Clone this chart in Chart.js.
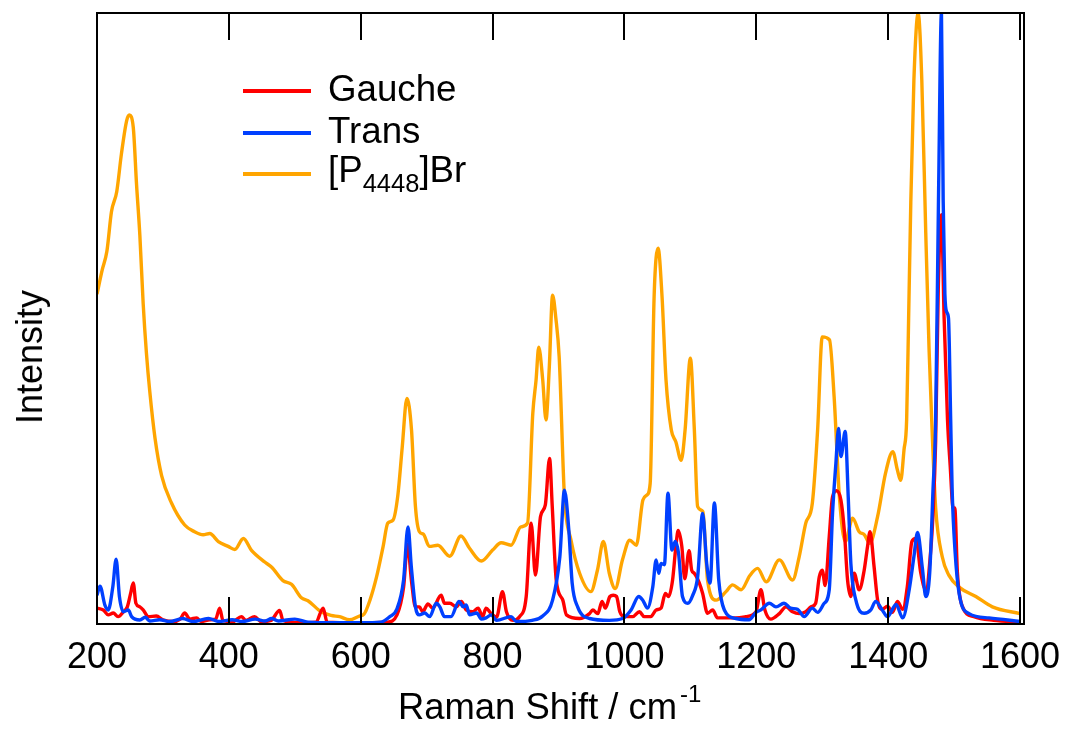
<!DOCTYPE html>
<html>
<head>
<meta charset="utf-8">
<script src="https://cdn.jsdelivr.net/npm/chart.js@4.4.1/dist/chart.umd.min.js"></script>
<style>
  html, body { margin: 0; padding: 0; background: #fff; }
  #wrap { position: relative; width: 1066px; height: 731px; overflow: hidden; font-family: "Liberation Sans", Arial, sans-serif; color: #000; }
  #c { position: absolute; left: 0; top: 0; }
  .lgline { position: absolute; left: 243px; width: 68px; height: 4px; }
  .lgtext { position: absolute; left: 328px; font-size: 36.7px; line-height: 36px; white-space: nowrap; }
  .lgtext sub { font-size: 25.5px; line-height: 0; vertical-align: baseline; position: relative; top: 10px; }
  #xtitle { position: absolute; left: 398px; top: 689px; font-size: 36.4px; line-height: 35px; white-space: nowrap; }
  #xtitle sup { font-size: 24px; line-height: 0; vertical-align: baseline; position: relative; top: -17px; margin-left: 3px; }
  #ytitle { position: absolute; left: 30px; top: 357px; font-size: 36px; line-height: 36px; white-space: nowrap; transform: translate(-50%, -50%) rotate(-90deg); }
</style>
</head>
<body>
<div id="wrap">
  <canvas id="c" width="1066" height="731"></canvas>
  <div id="legend"></div>
  <div id="xtitle">Raman Shift / cm<sup>-1</sup></div>
  <div id="ytitle">Intensity</div>
</div>
<script>
// ---- data (x: Raman shift / cm^-1, y: relative intensity 0..100) ----
const gaucheX = [200,209.6,217,224.7,232,240,246,251,255,259,265,270,278,290,300,315,326,333,341,351,358,371,380,386,391,406,419,426,439,449,464,477,482,502,532,543,549,594,640,655,665,671,677,683,689,694,702,709,722,727,735,745,752.5,760,770,778,785,790,797,806,815,821,831,841,851,858.5,865,872.7,880,886.4,890.5,896.5,906.5,912,932,947,952,959.6,966,971,978,983,988,993,1000,1012.6,1022.7,1030,1040,1048,1055.5,1062,1067,1073,1078,1081.5,1087,1091.5,1098,1102,1106,1113.6,1118.6,1126,1133.8,1141,1169,1184,1199.5,1207,1213,1222,1235,1245,1255,1265,1275,1283,1290,1295.5,1300,1304.5,1310.6,1315.6,1321.7,1328.3,1333.4,1338.4,1343.4,1348.5,1356,1363.6,1368.7,1372.5,1378.5,1384,1391,1399,1406.6,1414,1422,1429,1436,1442,1449.5,1457,1464.6,1468,1472,1476,1480.8,1484.8,1490,1494,1498.5,1501,1505,1512,1530,1560,1600];
const gaucheY = [2.6,2.3,1.5,1.8,1.2,2,2.8,5,6.7,3.4,2.8,2.3,1.2,1.3,0.7,0.4,0.8,1.8,0.8,1.0,0.4,0.7,0.8,2.6,0.6,0.4,1.2,0.6,1.2,0.4,0.6,2.2,0.6,0.2,0.3,2.6,0.3,0.2,0.3,1.5,6,13,7,2.8,2.8,2,3.3,2.6,4.7,3.4,3.4,2.8,3.7,2.3,2,2.6,1.2,2.6,1.8,1.1,5.3,2,0.6,1.2,4.5,16.5,8,17.6,19.5,27.1,19.2,7.2,3.9,1.5,0.9,1.7,2.3,1.7,3.7,2.6,4.5,4.7,4.5,2.0,1.2,1.2,2,1.2,1.2,2.3,2.6,5,4.5,7.2,12.7,15.3,12.7,7.4,12,8.8,8.3,6.7,5,1.75,2.3,1,1,1.2,2,5.6,2.3,0.8,1.7,2.8,2,1.7,2,2.8,3.4,7.7,8.8,6.3,14.3,20.8,21.8,20.3,15.4,7.2,4.5,8.3,5.6,8.8,12.7,15.1,9.5,3.9,2.4,2.9,1.9,3.7,2.4,6.1,13.5,14,8.3,5.6,12.1,18,30,55,67,50.3,33.4,26,19,19,8.4,3,1.2,0.6,0.3];

const transX = [200,204.5,212,217,224,229,234,240,247.5,252.5,265,273,280,295,310,330,345,369,385,405,420,440,455,465,475,500,520,560,600,630,644,655,665,671.7,676.7,683,689,697,704.5,714.6,720,727,737,749,755.5,760,765,776,783,790,798,806,828,836,860,876,891,902,909,915.6,920.7,929,947,977,997,1010,1021.7,1027.8,1035,1043,1048,1052,1055.5,1060.6,1066,1072,1077,1082,1088,1096,1103.5,1111,1118.6,1124.7,1129.8,1136.4,1143,1151.5,1169,1189,1199.5,1207,1219.7,1229.8,1242,1252,1262.6,1272.7,1285,1293,1303,1310.6,1315.6,1320.7,1324.7,1328.3,1334.8,1339.4,1343.4,1351,1363.6,1373.7,1381,1391,1399,1412,1422,1432,1439,1444.5,1452,1457,1463,1468,1472,1476.3,1480.8,1483.4,1486,1489,1491.5,1494.8,1497,1501.5,1507.6,1522.7,1553,1600];
const transY = [4.7,6.2,3.1,2.3,6.1,10.6,4.5,2,2.3,1.2,0.65,1.1,0.5,0.7,0.4,0.9,0.4,0.9,0.4,0.7,0.4,0.8,0.5,0.9,0.5,0.8,0.3,0.2,0.2,0.3,1.2,2.5,7.2,15.9,9.4,2.8,1.5,1.8,1.2,3.4,2.8,1.2,1.2,3.7,2.8,3.1,1.5,1.8,0.8,1,1.5,0.6,1.2,0.4,0.6,1.3,3.9,11,21.9,15.4,6.7,2.8,0.9,0.6,0.9,2.3,4.5,3.9,2.6,6.1,10.5,8.3,9.9,9.7,21.4,12.1,13.5,11.6,4.5,3.4,4.7,7.7,18.1,9.9,6.7,19.8,7.2,2.3,0.9,0.7,1.9,2.3,3.4,2.8,3.4,2.6,2.4,1.2,2.6,1.9,3.4,5.6,18.1,26.3,32,27.4,31.5,20.8,9.9,3.9,1.75,2.3,3.7,2.3,1.2,3.2,1,5.7,11,15,9,4.5,8.4,22,33.4,69.4,100,69.4,54,51,50,33.4,22,11.8,5,1.7,1.0,0.4];

const saltX = [200,208,215,222,230,237,245,249,255,260,265,270,275,280,288,298,313,333,348,361,371,384,399,409,422,434,455,465,482,495,510,520,540,555,568,583,598,605,614,624,634,641,649,656,663,670,677,683,689,695,704,717,735,752,765,783,800,813,828,843,853,861,866,870,876,881,886,891,896,901,909,919,932,949,959,968,977,986,997,1008,1018,1028,1034,1039,1045,1051,1057,1063,1071,1078,1086,1092,1100,1106,1111,1119,1126,1139,1154,1164,1177,1190,1202,1215,1235,1255,1265,1275,1285,1293,1300,1311,1318,1326,1335,1346,1356,1364,1372,1384,1396,1407,1414,1419,1424,1428,1431,1434.3,1439,1445.5,1451,1457,1462,1466,1472,1482,1492,1508,1533,1558,1600];
const saltY = [54,58,61,67.5,70.8,76.9,82.4,83.3,81.3,71.9,63.6,52.5,44.3,38.1,30.4,24.3,19.8,16.2,15.1,14.6,14.8,13.5,12.7,12.2,14.0,12.1,10.1,9.3,7.1,6.5,4.3,3.8,2.0,1.4,1.2,0.7,1.3,1.6,3.9,7.7,12.7,16.5,17,20.8,29,36.9,31.8,19.2,15.1,14.7,12.7,12.9,11.1,14.4,12.4,10.3,12.1,13.3,12.9,15.9,16.5,34.5,40,45.3,40,33.4,42,53.8,50,43.7,20.8,13.7,8.3,5.3,8.8,13.5,8.3,5.8,10.5,13.7,12.9,20.3,21.1,23,53.6,61.5,53.6,40,31.8,29.8,26.8,31.8,43.5,31.8,19.2,18.4,7.2,3.9,5.3,6.4,5.6,7.9,9.1,6.9,10.5,7.2,11,16.5,19.8,31.8,47,46.5,37.2,20.8,13.5,17.3,15.1,14.6,13.2,17.6,24.7,28.2,25.2,23.5,28.5,33.4,50,69,89,100,89,64,45,33.4,19,11,8,6,4.5,2.8,1.7];

const seriesNames = ["Gauche", "Trans", "[P<sub>4448</sub>]Br"];
const seriesColors = ["#ff0000", "#0040ff", "#ffa500"];
const xTickValues = [200, 400, 600, 800, 1000, 1200, 1400, 1600];

// ---- helpers ----
const pts = (xs, ys) => xs.map((x, i) => ({ x: x, y: ys[i] }));
const FONT = '"Liberation Sans", Arial, sans-serif';

// HTML legend (real text, with subscript)
const legendTops = [91, 133, 174];
const textTops = [70.5, 112.5, 152];
const lg = document.getElementById('legend');
seriesNames.forEach((name, i) => {
  const l = document.createElement('div');
  l.className = 'lgline';
  l.style.top = (legendTops[i] - 2) + 'px';
  l.style.background = seriesColors[i];
  lg.appendChild(l);
  const t = document.createElement('div');
  t.className = 'lgtext';
  t.style.top = textTops[i] + 'px';
  t.innerHTML = name;
  lg.appendChild(t);
});

const framePlugin = {
  id: 'frame',
  afterDatasetsDraw(chart) {
    const { ctx, chartArea: a, scales: { x } } = chart;
    ctx.save();
    ctx.strokeStyle = '#000';
    ctx.lineWidth = 2;
    ctx.strokeRect(a.left, a.top, a.right - a.left, a.bottom - a.top);
    ctx.beginPath();
    xTickValues.forEach(v => {
      const px = Math.round(x.getPixelForValue(v));
      ctx.moveTo(px, a.bottom);
      ctx.lineTo(px, a.bottom - 27);
      ctx.moveTo(px, a.top);
      ctx.lineTo(px, a.top + 27);
    });
    ctx.stroke();
    ctx.restore();
  }
};

new Chart(document.getElementById('c'), {
  type: 'line',
  data: {
    datasets: [
      { label: 'Trans', data: pts(transX, transY), borderColor: seriesColors[1], order: 0 },
      { label: 'Gauche', data: pts(gaucheX, gaucheY), borderColor: seriesColors[0], order: 1 },
      { label: '[P4448]Br', data: pts(saltX, saltY), borderColor: seriesColors[2], order: 2 }
    ]
  },
  options: {
    responsive: false,
    animation: false,
    layout: { padding: { left: 97, top: 13, right: 42, bottom: 0 } },
    elements: {
      point: { radius: 0 },
      line: { borderWidth: 3.4, cubicInterpolationMode: 'monotone', fill: false }
    },
    plugins: { legend: { display: false }, tooltip: { enabled: false } },
    scales: {
      x: {
        type: 'linear',
        min: 200,
        max: 1606,
        grid: { display: false, drawTicks: false },
        border: { display: false },
        afterBuildTicks: s => { s.ticks = xTickValues.map(v => ({ value: v })); },
        afterFit: s => { s.height = 107; s.paddingLeft = 0; s.paddingRight = 0; },
        ticks: {
          color: '#000',
          font: { family: FONT, size: 36 },
          padding: 12,
          maxRotation: 0,
          autoSkip: false,
          callback: v => String(v)
        }
      },
      y: { display: false, min: 0, max: 100 }
    }
  },
  plugins: [framePlugin]
});
</script>
</body>
</html>
